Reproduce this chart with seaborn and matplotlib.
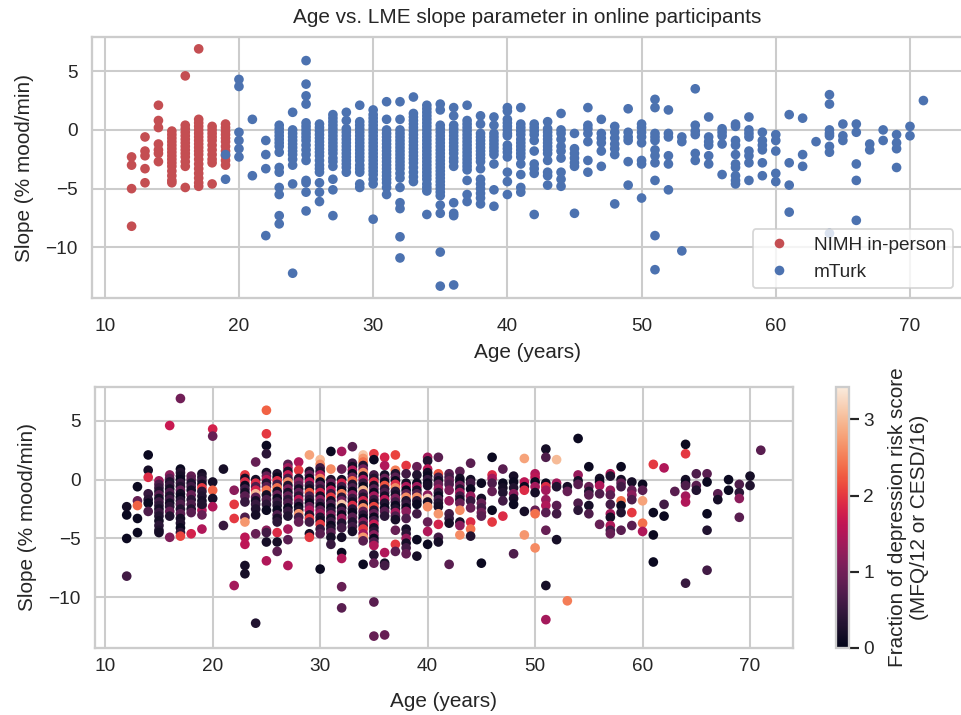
import numpy as np
import pandas as pd
import matplotlib
matplotlib.use("Agg")
import matplotlib.pyplot as plt
import seaborn as sns
from matplotlib.colors import Normalize
from matplotlib.cm import ScalarMappable

# ---------------- data ----------------
nimh_ages = [12, 13, 14, 15, 16, 17, 18, 19]
nimh_slopes = [
    [-2.3, -3.0, -5.0, -8.2],
    [-0.6, -1.8, -2.2, -3.3, -4.5],
    [2.1, 0.8, 0.2, -1.2, -1.7, -2.0, -2.7],
    [-0.1, -0.4, -0.7, -1.0, -1.3, -1.6, -1.9, -2.2, -2.5, -2.8, -3.1, -3.5, -3.9, -4.3, -4.5],
    [4.6, 0.4, 0.1, -0.2, -0.5, -0.8, -1.1, -1.4, -1.7, -2.0, -2.3, -2.7, -3.1, -4.9],
    [6.9, 0.9, 0.6, 0.3, 0.0, -0.3, -0.6, -0.9, -1.2, -1.5, -1.8, -2.1, -2.5, -2.9, -3.3, -3.7, -4.1, -4.5, -4.8],
    [0.3, 0.0, -0.3, -0.6, -0.9, -1.3, -1.7, -2.1, -2.5, -2.8, -4.6],
    [0.5, 0.2, -0.1, -0.4, -0.7, -1.0, -1.4, -1.8, -2.2, -2.6, -3.0],
]
nimh_scores = [
    [0.2, 0.1, 0.1, 0.6],
    [0.1, 0.9, 2.3, 0.1, 0.1],
    [0.1, 0.2, 1.9, 0.5, 0.4, 0.1, 0.7],
    [1.3, 0.7, 0.5, 0.3, 0.8, 0.2, 0.6, 0.4, 0.2, 0.5, 0.3, 0.2, 0.4, 0.3, 0.2],
    [1.7, 1.2, 0.8, 0.3, 0.5, 0.2, 0.7, 0.3, 0.6, 0.2, 0.4, 0.9, 0.3, 1.1],
    [1.0, 0.1, 0.3, 0.2, 0.1, 0.5, 0.3, 0.9, 0.2, 0.1, 0.4, 0.7, 0.3, 0.8, 0.2, 0.3, 0.1, 0.4, 2.1],
    [0.9, 0.8, 0.3, 0.6, 0.2, 0.9, 0.4, 0.7, 0.3, 0.8, 1.8],
    [0.2, 0.3, 0.5, 0.2, 2.0, 0.4, 0.3, 0.2, 0.6, 1.5, 0.9],
]

mturk_ages = [19, 20, 21, 22, 23, 24, 25, 26, 27, 28, 29, 30, 31, 32, 33, 34, 35, 36, 37, 38,
              39, 40, 41, 42, 43, 44, 45, 46, 47, 48, 49, 50, 51, 52, 53, 54, 55, 56, 57, 58,
              59, 60, 61, 62, 63, 64, 65, 66, 67, 68, 69, 70, 71]
mturk_slopes = [
    [-2.1, -4.2],
    [4.3, 3.7, -0.2, -0.9, -1.6, -2.3],
    [0.9, -3.9],
    [-0.9, -2.1, -3.3, -9.0],
    [0.4, 0.1, -0.2, -0.5, -0.8, -1.1, -1.4, -1.9, -3.2, -3.6, -4.9, -5.5, -7.3, -8.0],
    [1.5, 0.0, -0.3, -0.6, -0.9, -1.2, -1.5, -1.8, -2.1, -2.5, -3.0, -4.6, -12.2],
    [5.9, 3.9, 2.9, 2.2, 0.6, 0.3, 0.0, -0.3, -0.6, -0.9, -1.3, -1.7, -2.1, -2.6, -4.3, -4.5, -5.3, -6.9],
    [0.5, 0.2, -0.1, -0.4, -0.7, -1.0, -1.3, -1.6, -1.9, -2.2, -2.6, -3.0, -3.3, -3.6, -4.5, -5.3, -6.1],
    [1.3, 1.0, 0.7, 0.4, 0.1, -0.2, -0.5, -0.8, -1.1, -1.4, -1.7, -2.0, -2.4, -2.7, -3.1, -4.2, -5.1, -7.3],
    [1.5, 0.8, 0.1, -0.2, -0.5, -0.8, -1.1, -1.4, -1.7, -2.0, -2.3, -2.6, -2.9, -3.2, -3.6],
    [2.1, 0.7, 0.4, 0.1, -0.2, -0.5, -0.8, -1.1, -1.4, -1.7, -2.0, -2.3, -2.6, -3.0, -3.3, -3.6, -4.6, -4.9],
    [1.7, 1.3, 1.0, 0.7, 0.4, 0.1, -0.2, -0.5, -0.8, -1.1, -1.4, -1.7, -2.0, -2.3, -2.6, -2.9, -3.2, -3.5, -3.8, -4.2, -4.6, -7.6],
    [2.4, 0.9, 0.0, -0.3, -0.6, -0.9, -1.2, -1.5, -1.8, -2.1, -2.4, -2.7, -3.0, -3.3, -3.6, -3.9, -4.2, -4.5, -4.9, -5.5],
    [2.4, 0.9, 0.0, -0.3, -0.6, -0.9, -1.2, -1.5, -1.8, -2.1, -2.4, -2.7, -3.0, -3.3, -3.7, -4.1, -4.9, -6.2, -6.7, -9.1, -10.9],
    [2.8, 1.4, 1.1, 0.8, 0.5, 0.2, -0.1, -0.4, -0.7, -1.0, -1.3, -1.6, -1.9, -2.2, -2.5, -2.8, -3.2, -3.6, -4.0, -4.4],
    [2.1, 1.8, 1.5, 1.2, 0.9, 0.6, 0.3, 0.0, -0.3, -0.6, -0.9, -1.2, -1.5, -1.8, -2.1, -2.4, -2.7, -3.0, -3.3, -3.6, -3.9, -4.2, -4.6, -4.9, -5.2, -7.2],
    [2.2, 1.7, 0.4, 0.1, -0.2, -0.5, -0.8, -1.1, -1.4, -1.7, -2.0, -2.3, -2.6, -2.9, -3.2, -3.5, -3.8, -4.1, -4.4, -4.7, -5.0, -5.3, -5.6, -6.4, -7.1, -10.4, -13.3],
    [1.9, 1.2, 0.4, 0.1, -0.2, -0.5, -0.8, -1.1, -1.4, -1.7, -2.0, -2.4, -2.7, -3.1, -6.2, -7.1, -7.3, -13.2],
    [2.1, 0.8, 0.5, 0.2, -0.1, -0.4, -0.7, -1.0, -1.3, -1.6, -1.9, -2.2, -2.5, -2.8, -3.1, -3.4, -4.3, -5.5, -6.1],
    [1.2, 0.5, -0.3, -0.6, -0.9, -1.2, -1.5, -1.8, -2.1, -2.4, -2.7, -3.3, -4.2, -4.6, -5.0, -5.4, -5.8, -6.3],
    [1.1, 0.4, -0.3, -0.6, -0.9, -1.2, -1.5, -1.8, -2.1, -2.9, -5.1, -6.5],
    [1.9, 1.6, 0.9, 0.6, 0.3, 0.0, -0.3, -0.5, -1.3, -1.6, -1.9, -2.3, -3.6, -4.4, -5.5],
    [1.9, 0.5, 0.2, -0.1, -0.4, -0.8, -1.1, -1.4, -1.7, -2.0, -2.3, -2.9, -3.8, -4.9, -5.3],
    [0.5, 0.2, -0.1, -0.4, -0.9, -1.8, -2.9, -3.3, -3.7, -7.2],
    [0.7, 0.1, -0.2, -0.5, -0.8, -1.1, -1.4, -1.7, -2.0, -2.6, -3.6, -3.9, -4.7],
    [1.4, 0.0, -0.3, -0.8, -1.4, -1.8, -2.4, -3.6, -4.2, -4.8],
    [-0.3, -1.6, -2.0, -2.4, -2.8, -3.1, -7.1],
    [1.9, 0.4, 0.1, -0.3, -1.0, -2.6, -3.6],
    [0.9, -0.3, -0.7, -1.1, -1.8, -3.1],
    [0.3, -0.2, -0.7, -1.2, -1.6, -2.1, -6.3],
    [1.8, -0.2, -0.6, -0.9, -2.7, -4.7],
    [0.5, 0.2, -0.2, -0.6, -1.1, -2.6, -2.9, -5.8],
    [2.6, 1.9, -0.3, -0.6, -0.9, -1.7, -2.2, -2.8, -4.3, -9.0, -11.9],
    [1.7, -0.3, -0.6, -2.2, -2.9, -5.1],
    [-0.6, -1.0, -10.3],
    [3.5, 0.4, -0.1, -0.4, -2.0, -2.6],
    [1.1, -0.6, -1.0, -1.3, -2.2, -2.9],
    [0.1, -0.2, -0.5, -1.2, -3.8],
    [0.5, 0.3, -0.9, -1.3, -2.1, -2.9, -3.2, -3.9, -4.3, -4.6],
    [1.1, 0.0, -0.3, -0.6, -1.8, -2.2, -2.8, -4.3],
    [-0.2, -0.9, -1.3, -1.7, -2.8, -3.9],
    [-0.4, -0.9, -1.8, -3.7, -4.4],
    [1.3, -2.8, -4.7, -7.0],
    [1.0, -2.1, -3.1],
    [-1.0],
    [3.0, 2.2, 0.0, -0.3, -0.5, -1.4, -1.9, -8.8],
    [0.5, -0.5, -0.9],
    [0.5, -0.2, -2.9, -4.3, -7.7],
    [-1.2, -1.7],
    [0.0, -0.9],
    [-0.4, -1.1, -1.6, -3.2],
    [0.3, -0.5],
    [2.5],
]
mturk_scores = [
    [0.3, 1.5],
    [1.8, 0.9, 0.2, 2.3, 0.2, 1.5],
    [0.2, 0.5],
    [1.2, 2.0, 2.0, 1.4],
    [2.0, 0.2, 1.9, 0.1, 0.6, 0.2, 0.8, 0.5, 0.7, 2.7, 1.6, 1.6, 0.2, 0.2],
    [0.9, 0.2, 1.9, 0.7, 1.8, 3.0, 0.8, 0.2, 0.5, 0.3, 0.2, 0.9, 0.3],
    [2.3, 2.0, 0.1, 0.4, 0.2, 0.9, 1.6, 0.3, 0.8, 2.4, 0.2, 0.7, 0.4, 0.1, 1.2, 0.6, 0.2, 1.5],
    [0.3, 0.1, 1.9, 0.6, 2.4, 0.2, 0.9, 0.1, 0.5, 0.3, 0.1, 0.7, 0.2, 0.4, 1.9, 0.2, 0.8],
    [0.8, 1.4, 0.2, 1.7, 0.6, 2.6, 0.3, 1.1, 0.2, 0.9, 0.4, 0.7, 0.1, 0.5, 0.3, 1.4, 0.8, 1.5],
    [1.5, 2.0, 0.3, 1.2, 0.8, 0.2, 0.9, 0.4, 1.6, 0.7, 0.1, 0.3, 2.7, 0.6, 0.9],
    [2.8, 0.3, 0.9, 0.1, 1.6, 0.5, 0.2, 2.2, 0.7, 0.4, 0.1, 0.9, 1.5, 0.3, 2.0, 0.6, 0.2, 2.0],
    [3.0, 2.6, 0.6, 0.3, 1.5, 2.5, 0.1, 0.8, 0.4, 1.8, 0.2, 1.2, 0.6, 0.1, 0.9, 1.4, 0.3, 0.2, 2.0, 0.5, 0.8, 0.1],
    [0.1, 2.6, 0.3, 0.9, 0.1, 1.6, 0.5, 2.0, 0.2, 0.7, 0.1, 0.4, 1.1, 0.2, 0.6, 0.1, 0.3, 0.8, 0.2, 0.5],
    [1.4, 0.9, 0.2, 1.8, 0.6, 0.1, 2.5, 0.4, 1.0, 3.1, 0.2, 0.7, 0.1, 1.3, 0.3, 0.6, 0.2, 0.1, 1.5, 0.9, 0.8],
    [0.8, 0.6, 0.2, 1.5, 0.1, 0.9, 2.3, 0.3, 0.7, 0.1, 1.2, 0.5, 0.2, 1.9, 0.4, 0.1, 0.8, 0.3, 0.6, 0.2],
    [3.1, 2.7, 2.4, 0.3, 1.0, 2.6, 0.2, 1.5, 0.5, 0.1, 2.9, 0.7, 0.3, 1.8, 0.2, 2.6, 0.9, 0.4, 0.1, 1.2, 0.5, 2.0, 1.4, 2.7, 0.8, 0.1],
    [2.0, 0.1, 0.6, 0.3, 1.9, 0.2, 0.8, 0.1, 1.4, 0.5, 0.2, 2.1, 0.3, 0.9, 0.1, 0.6, 1.7, 0.2, 0.4, 1.2, 0.1, 0.7, 1.5, 0.3, 0.9, 0.8, 0.9],
    [1.8, 1.5, 0.2, 0.9, 0.1, 2.2, 0.4, 0.7, 0.2, 1.6, 0.3, 0.1, 0.8, 0.4, 1.5, 0.2, 0.6, 0.9],
    [2.1, 2.5, 0.3, 0.8, 0.1, 1.9, 2.6, 0.4, 0.2, 1.1, 0.6, 0.1, 0.3, 1.4, 0.7, 0.2, 0.9, 2.0, 0.8],
    [2.0, 0.6, 0.2, 1.5, 0.1, 0.8, 2.6, 0.3, 0.5, 0.1, 1.2, 0.7, 0.2, 0.4, 1.3, 0.2, 0.6, 0.9],
    [0.9, 0.3, 0.1, 1.4, 0.2, 0.7, 2.6, 0.4, 0.1, 0.6, 0.1, 0.2],
    [1.4, 0.3, 1.6, 0.2, 0.1, 0.5, 0.1, 0.2, 1.2, 3.2, 0.2, 2.6, 0.9, 1.5, 0.1],
    [0.8, 2.2, 0.6, 0.2, 0.9, 1.3, 0.4, 0.1, 0.7, 0.3, 0.2, 2.7, 1.8, 0.6, 0.2],
    [0.8, 0.6, 0.9, 0.7, 1.1, 1.3, 0.6, 0.5, 0.2, 0.8],
    [0.8, 0.2, 0.1, 1.0, 0.3, 1.4, 0.6, 0.2, 0.9, 2.6, 0.2, 1.2, 2.6],
    [0.8, 0.2, 0.6, 0.1, 1.3, 0.5, 0.9, 1.9, 2.4, 0.3],
    [0.1, 0.2, 0.9, 0.6, 1.0, 0.8, 0.1],
    [0.1, 1.9, 1.4, 0.7, 0.9, 0.1, 2.0],
    [0.8, 0.1, 0.2, 0.3, 0.6, 1.9],
    [0.2, 0.1, 0.3, 1.2, 0.2, 0.1, 0.7],
    [2.8, 1.6, 0.1, 1.9, 0.2, 2.7],
    [1.5, 1.6, 0.1, 1.4, 0.2, 0.9, 2.4, 2.6],
    [0.2, 0.7, 0.1, 1.9, 1.4, 1.3, 1.5, 0.8, 0.9, 0.2, 1.4],
    [3.0, 1.4, 0.3, 0.8, 0.6, 0.2],
    [0.2, 0.9, 2.5],
    [0.1, 1.3, 0.2, 0.8, 0.7, 0.4],
    [0.1, 0.9, 0.3, 0.8, 0.2, 0.7],
    [0.2, 0.1, 1.5, 0.7, 0.9],
    [1.5, 0.3, 1.3, 0.8, 0.6, 1.4, 0.2, 1.5, 0.6, 0.9],
    [0.1, 0.2, 0.9, 0.6, 2.4, 0.1, 0.3, 0.8],
    [0.2, 0.9, 1.2, 0.7, 2.0, 0.8],
    [0.1, 0.8, 2.8, 2.4, 1.5],
    [2.0, 0.1, 0.1, 0.1],
    [1.5, 0.6, 0.1],
    [0.8],
    [0.1, 2.0, 0.2, 0.1, 0.7, 1.4, 1.5, 0.5],
    [0.7, 0.8, 0.3],
    [0.8, 0.1, 0.1, 0.3, 0.6],
    [0.8, 0.2],
    [0.1, 0.1],
    [0.7, 0.4, 1.2, 0.8],
    [0.2, 0.3],
    [0.8],
]

group_labels = ["NIMH in-person", "mTurk"]
title_text = "Age vs. LME slope parameter in online participants"
x_label = "Age (years)"
y_label = "Slope (% mood/min)"
cbar_label = "Fraction of depression risk score\n(MFQ/12 or CESD/16)"
score_max = 3.43

# ---------------- build table ----------------
rows = []
for label, ages, slopes, scores in [
    (group_labels[0], nimh_ages, nimh_slopes, nimh_scores),
    (group_labels[1], mturk_ages, mturk_slopes, mturk_scores),
]:
    for a, sl, sc in zip(ages, slopes, scores):
        for s, c in zip(sl, sc):
            rows.append((a, s, c, label))
df = pd.DataFrame(rows, columns=["age", "slope", "score", "group"])

# ---------------- style ----------------
sns.set_theme(style="whitegrid", context="talk")
plt.rcParams["font.family"] = ["Liberation Sans", "DejaVu Sans"]
plt.rcParams["grid.linewidth"] = 1.8
plt.rcParams["axes.linewidth"] = 2.0

W, H, DPI = 961, 715, 83
fig = plt.figure(figsize=(W / DPI, H / DPI), dpi=DPI)

ax1 = fig.add_axes([92 / W, 1 - 298 / H, (963 - 92) / W, (298 - 37) / H])
ax2 = fig.add_axes([95 / W, 1 - 648 / H, (792.5 - 95) / W, (648 - 386.6) / H])
cax = fig.add_axes([836 / W, 1 - 648 / H, 13 / W, (648 - 386.6) / H])

deep = sns.color_palette("deep")
sns.scatterplot(data=df, x="age", y="slope", hue="group",
                palette={group_labels[0]: deep[3], group_labels[1]: deep[0]},
                hue_order=group_labels, ax=ax1, s=70, linewidth=0)
sns.move_legend(ax1, "lower right", title=None, frameon=True)
ax1.set_title(title_text, pad=12)
ax1.set_xlabel(x_label, labelpad=7)
ax1.set_ylabel(y_label, labelpad=10)
ax1.tick_params(axis="x", pad=8.5)

cmap = sns.color_palette("rocket", as_cmap=True)
sns.scatterplot(data=df, x="age", y="slope", hue="score", palette=cmap,
                hue_norm=(0, score_max), legend=False, ax=ax2, s=70, linewidth=0)
ax2.set_xlabel(x_label, labelpad=14)
ax2.set_ylabel(y_label, labelpad=10)
ax2.tick_params(axis="x", pad=0)

sm = ScalarMappable(norm=Normalize(0, score_max), cmap=cmap)
cb = fig.colorbar(sm, cax=cax)
cb.set_ticks([0, 1, 2, 3])
cb.set_label(cbar_label, labelpad=12)

fig.savefig("out.png", dpi=DPI)
